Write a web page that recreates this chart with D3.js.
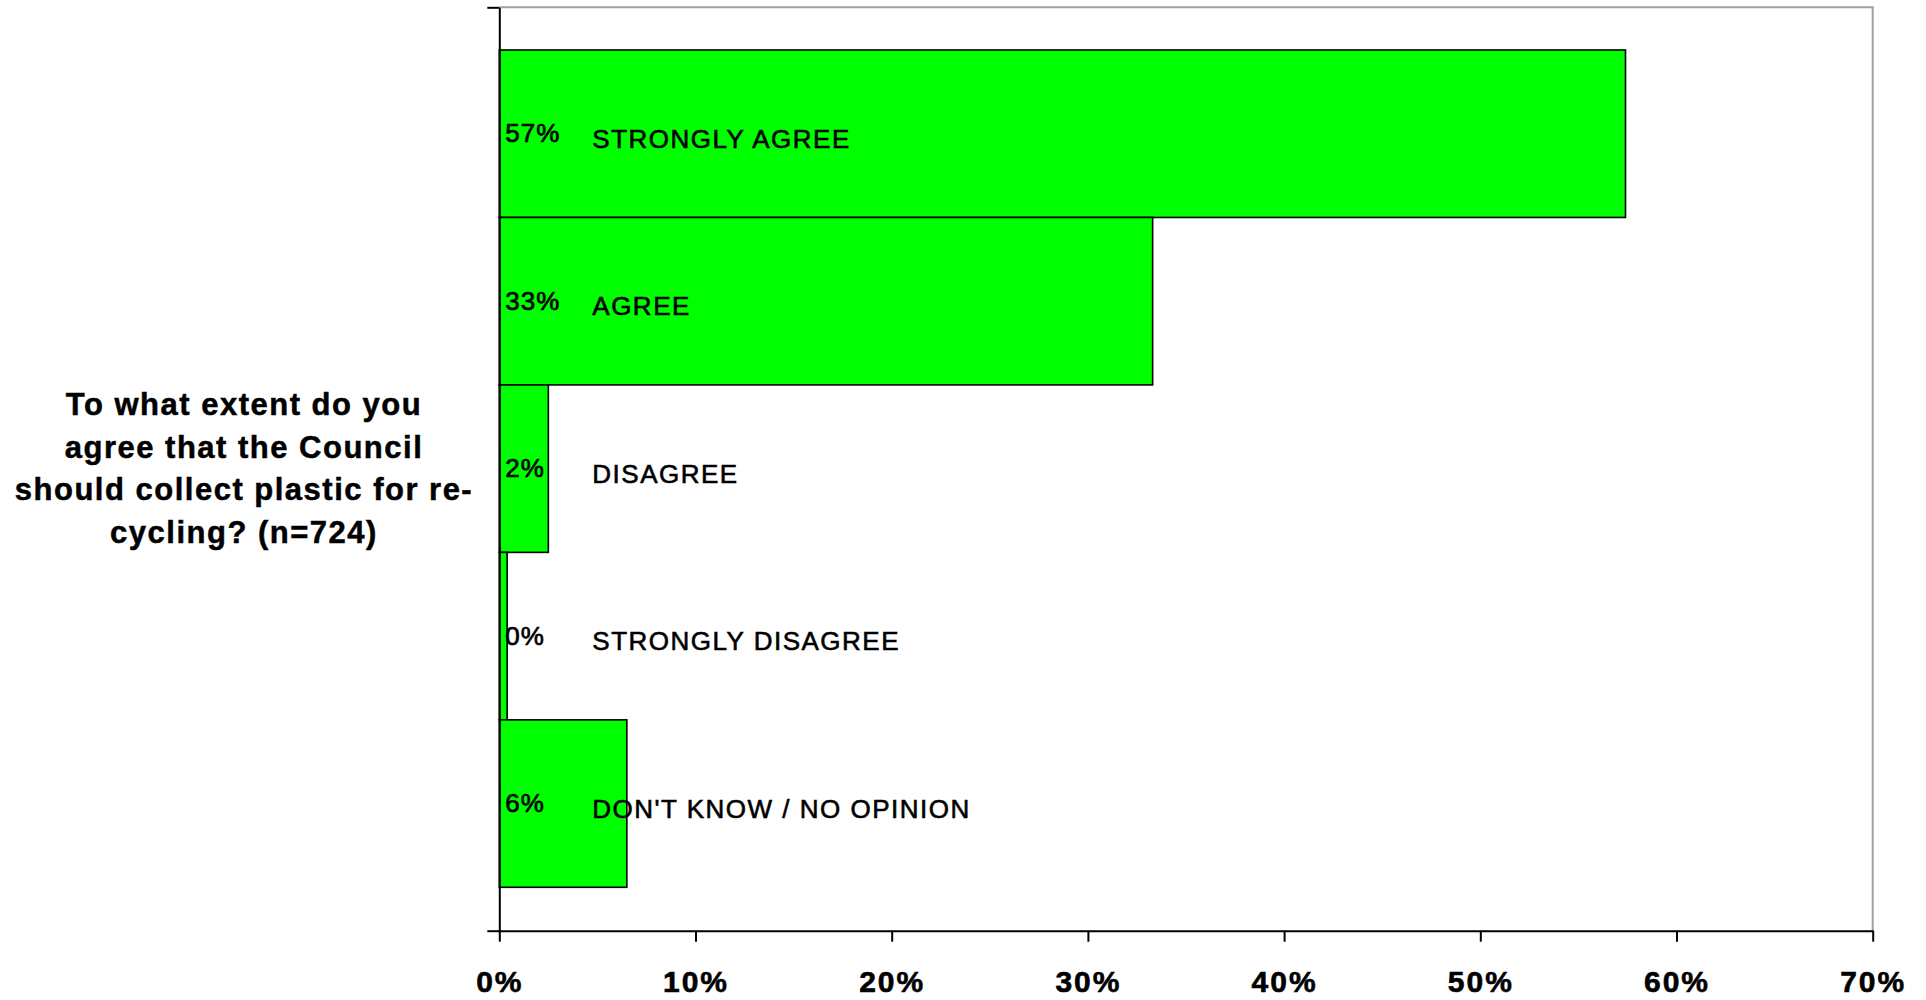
<!DOCTYPE html>
<html>
<head>
<meta charset="utf-8">
<script src="https://d3js.org/d3.v7.min.js"></script>
<style>
    body { margin: 0; background: #ffffff; }
    svg { display: block; }
</style>
</head>
<body>
<svg id="drawing_region"></svg>
<script>
// answers, top to bottom
const categories = ["STRONGLY AGREE", "AGREE", "DISAGREE", "STRONGLY DISAGREE", "DON'T KNOW / NO OPINION"];
const values = [0.574, 0.333, 0.025, 0.004, 0.065];
const value_labels = ["57%", "33%", "2%", "0%", "6%"];
const x_ticks = [0, 0.1, 0.2, 0.3, 0.4, 0.5, 0.6, 0.7];
const question = ["To what extent do you", "agree that the Council", "should collect plastic for re-", "cycling? (n=724)"];

var config = {
    parent: '#drawing_region',
    width: 1926,
    height: 1000,
    margin: {top:7.3, right:53.3, bottom:69.3, left:499.3}
};

class BarChart {

    constructor( config ) {
        this.config = config;
        this.init();
    }

    init() {
        let self = this;

        self.svg = d3.select( self.config.parent )
            .attr('width', self.config.width)
            .attr('height', self.config.height);

        self.chart = self.svg.append('g')
            .attr('transform', `translate(${self.config.margin.left}, ${self.config.margin.top})`);

        self.inner_width = self.config.width - self.config.margin.left - self.config.margin.right;
        self.inner_height = self.config.height - self.config.margin.top - self.config.margin.bottom;

        self.xscale = d3.scaleLinear()
            .domain( [0, 0.7] )
            .range( [0, self.inner_width] );

        // bars fill the middle of the single category, with a gap above and below
        self.yscale = d3.scaleBand()
            .domain( categories )
            .range( [42.7, self.inner_height - 43.4] )
            .padding( 0 );

        // the category axis only has ticks at its two ends
        self.yedge = d3.scaleLinear()
            .domain( [0, 1] )
            .range( [self.inner_height, 0] );

        self.xaxis = d3.axisBottom( self.xscale )
            .tickValues( x_ticks )
            .tickFormat( d3.format(".0%") )
            .tickSize( 11 )
            .tickSizeOuter( 0 )
            .tickPadding( 29 );

        self.yaxis = d3.axisLeft( self.yedge )
            .tickValues( [0, 1] )
            .tickFormat( "" )
            .tickSize( 12 )
            .tickSizeOuter( 0 );
    }

    render() {
        let self = this;

        // plot area frame (grey top and right)
        self.chart.append("path")
            .attr("d", `M0,0H${self.inner_width}V${self.inner_height}`)
            .attr("fill", "none")
            .attr("stroke", "#a0a0a0")
            .attr("stroke-width", 2);

        self.chart.selectAll(".bar")
            .data( values )
            .enter()
            .append("rect")
            .attr("class", "bar")
            .attr("x", 0)
            .attr("y", (d, i) => self.yscale( categories[i] ))
            .attr("width", d => self.xscale( d ))
            .attr("height", self.yscale.bandwidth())
            .attr("fill", "#00ff00")
            .attr("stroke", "#000000")
            .attr("stroke-width", 1.6);

        self.chart.selectAll(".vlabel")
            .data( value_labels )
            .enter()
            .append("text")
            .attr("class", "vlabel")
            .text( d => d )
            .attr("x", 6)
            .attr("y", (d, i) => self.yscale( categories[i] ) + self.yscale.bandwidth() / 2 + 8.5)
            .attr("font-family", "Liberation Sans, Arial, sans-serif")
            .attr("font-size", "26px")
            .attr("letter-spacing", "1px")
            .attr("fill", "black")
            .attr("stroke", "black")
            .attr("stroke-width", 0.7);

        self.chart.selectAll(".clabel")
            .data( categories )
            .enter()
            .append("text")
            .attr("class", "clabel")
            .text( d => d )
            .attr("x", 93)
            .attr("y", d => self.yscale( d ) + self.yscale.bandwidth() / 2 + 14)
            .attr("font-family", "Liberation Sans, Arial, sans-serif")
            .attr("font-size", "26px")
            .attr("letter-spacing", "1.5px")
            .attr("fill", "black")
            .attr("stroke", "black")
            .attr("stroke-width", 0.6);

        self.xaxis_group = self.chart.append('g')
            .attr('transform', `translate(0, ${self.inner_height})`)
            .call( self.xaxis );

        self.xaxis_group.selectAll("text")
            .attr("font-family", "Liberation Sans, Arial, sans-serif")
            .attr("font-size", "30px")
            .attr("font-weight", "bold")
            .attr("letter-spacing", "2px")
            .attr("fill", "black")
            .attr("stroke", "black")
            .attr("stroke-width", 0.6);

        self.yaxis_group = self.chart.append('g')
            .call( self.yaxis );

        self.chart.selectAll(".domain, .tick line")
            .attr("stroke", "black")
            .attr("stroke-width", 2);

        // y axis title
        self.svg.append("text")
            .attr("font-family", "Liberation Sans, Arial, sans-serif")
            .attr("font-size", "31px")
            .attr("font-weight", "bold")
            .attr("letter-spacing", "1.5px")
            .attr("text-anchor", "middle")
            .attr("fill", "black")
            .attr("stroke", "black")
            .attr("stroke-width", 0.5)
            .selectAll("tspan")
            .data( question )
            .enter()
            .append("tspan")
            .attr("x", 244)
            .attr("y", (d, i) => 415 + i * 42.7)
            .text( d => d );
    }
}

const bar_chart = new BarChart( config );
bar_chart.render();
</script>
</body>
</html>
